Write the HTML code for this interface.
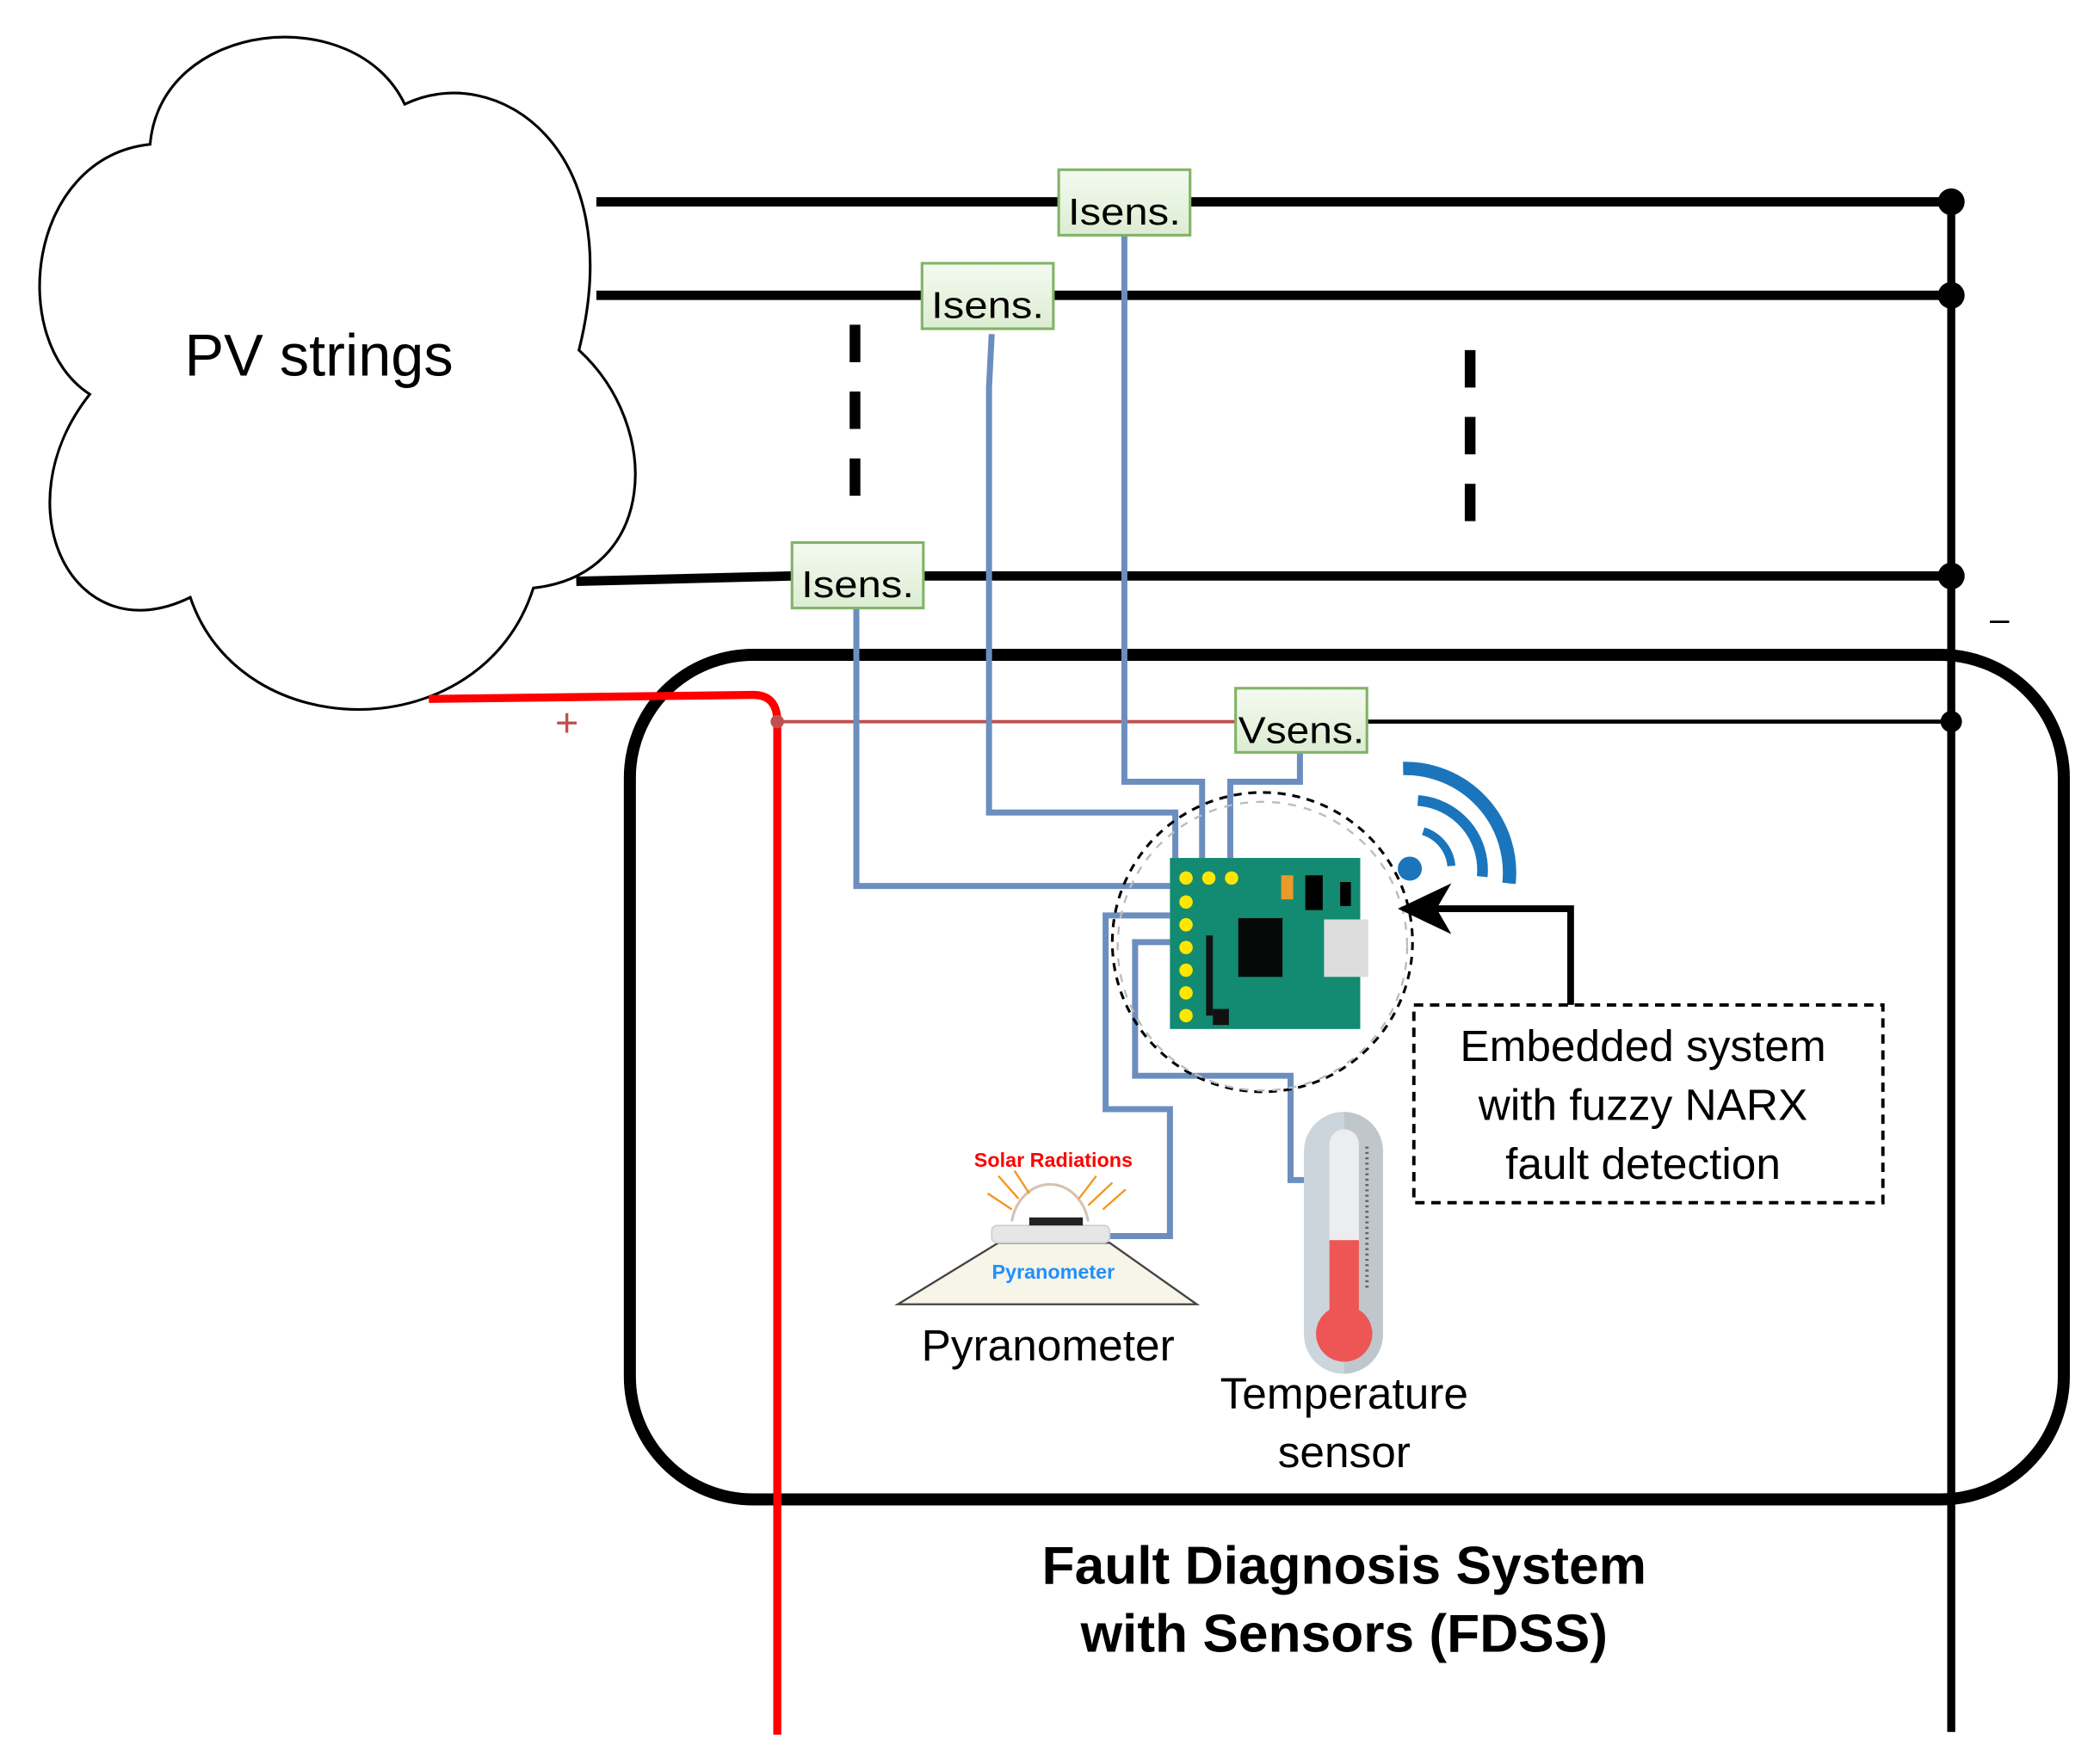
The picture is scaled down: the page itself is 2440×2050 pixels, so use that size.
<!DOCTYPE html>
<html><head><meta charset="utf-8"><style>
html,body{margin:0;padding:0;background:#fff;}
svg{display:block;}
text{font-family:"Liberation Sans",sans-serif;}
</style></head><body>
<svg width="2440" height="2050" viewBox="0 0 1567 1320" preserveAspectRatio="none" xmlns="http://www.w3.org/2000/svg">
<defs>
<linearGradient id="g" x1="0" y1="0" x2="0" y2="1"><stop offset="0" stop-color="#f4faf0"/><stop offset="1" stop-color="#dcedd2"/></linearGradient>
<clipPath id="tc"><rect x="973" y="832" width="59" height="196" rx="29.5"/></clipPath>
</defs>
<!-- cloud -->
<path d="M67,295 C5,255 20,118 112,108 C120,15 265,0 302,78 C370,45 470,110 432,262 C495,320 490,430 398,440 C360,560 180,560 142,447 C55,490 0,380 67,295 Z" fill="#fff" stroke="#000" stroke-width="2"/>
<text x="238" y="281" font-size="44" text-anchor="middle">PV strings</text>

<g stroke="#000" stroke-width="7" fill="none">
<line x1="445" y1="151" x2="1456" y2="151"/>
<line x1="445" y1="221" x2="1456" y2="221"/>
<path d="M430,435 L591,431 L1456,431"/>
</g>
<line x1="1456" y1="151" x2="1456" y2="1296" stroke="#000" stroke-width="6"/>
<g fill="#000"><circle cx="1456" cy="151" r="10"/><circle cx="1456" cy="221" r="10"/><circle cx="1456" cy="431" r="10"/><circle cx="1456" cy="540" r="8"/></g>
<text x="1492" y="472" font-size="26" text-anchor="middle">–</text>
<g stroke="#000" stroke-width="8" stroke-dasharray="28,22"><line x1="638" y1="243" x2="638" y2="392"/><line x1="1097" y1="262" x2="1097" y2="408"/></g>

<rect x="470" y="490" width="1070" height="632" rx="92" fill="none" stroke="#000" stroke-width="9"/>

<path d="M320,523 L562,520 Q580,520 580,540 L580,1298" fill="none" stroke="#ff0000" stroke-width="6"/>
<line x1="580" y1="540" x2="922" y2="540" stroke="#c0504d" stroke-width="2.5"/>
<circle cx="580" cy="540" r="5" fill="#c0504d"/>
<text x="423" y="551" font-size="30" fill="#c0504d" text-anchor="middle">+</text>
<line x1="1020" y1="540" x2="1456" y2="540" stroke="#000" stroke-width="3"/>

<g stroke="#6c8ebf" stroke-width="4.5" fill="none">
<path d="M839,176 L839,585 L897,585 L897,642"/>
<path d="M740,250 L738,290 L738,608 L877,608 L877,642"/>
<path d="M639,455 L639,663 L873,663"/>
<path d="M970,563 L970,585 L918,585 L918,642"/>
<path d="M873,685 L825,685 L825,830 L873,830 L873,925 L828,925"/>
<path d="M873,705 L847,705 L847,805 L963,805 L963,883 L976,883"/>
</g>

<g stroke="#82b366" stroke-width="2" fill="url(#g)">
<rect x="790" y="127" width="98" height="49"/>
<rect x="688" y="197" width="98" height="49"/>
<rect x="591" y="406" width="98" height="49"/>
<rect x="922" y="515" width="98" height="48"/>
</g>
<g font-size="28" text-anchor="middle">
<text x="839" y="168" textLength="84" lengthAdjust="spacingAndGlyphs">Isens.</text>
<text x="737" y="238" textLength="84" lengthAdjust="spacingAndGlyphs">Isens.</text>
<text x="640" y="447" textLength="84" lengthAdjust="spacingAndGlyphs">Isens.</text>
<text x="971" y="556" textLength="94" lengthAdjust="spacingAndGlyphs">Vsens.</text>
</g>

<circle cx="942" cy="705" r="112" fill="none" stroke="#000" stroke-width="2" stroke-dasharray="6,5"/>
<circle cx="942" cy="708" r="108" fill="none" stroke="#bbb" stroke-width="1.5" stroke-dasharray="6,6"/>

<rect x="873" y="642" width="142" height="128" fill="#138a72"/>
<g fill="#ffe600"><circle cx="885" cy="657" r="5"/><circle cx="902" cy="657" r="5"/><circle cx="919" cy="657" r="5"/>
<circle cx="885" cy="675" r="5"/><circle cx="885" cy="692" r="5"/><circle cx="885" cy="709" r="5"/><circle cx="885" cy="726" r="5"/><circle cx="885" cy="743" r="5"/><circle cx="885" cy="760" r="5"/></g>
<rect x="924" y="687" width="33" height="44" fill="#050a08"/>
<rect x="988" y="688" width="33" height="43" fill="#ddd"/>
<rect x="956" y="655" width="9" height="18" fill="#e89a2a"/>
<rect x="974" y="655" width="13" height="26" fill="#000"/>
<rect x="1000" y="660" width="8" height="18" fill="#000"/>
<rect x="900" y="700" width="5" height="60" fill="#111"/>
<rect x="905" y="755" width="12" height="12" fill="#111"/>

<circle cx="1052" cy="650" r="9" fill="#1a75bc"/>
<g fill="none" stroke="#1a75bc">
<path d="M1062,622 A30,30 0 0 1 1083,648" stroke-width="6"/>
<path d="M1058,599 A52,52 0 0 1 1106,656" stroke-width="8"/>
<path d="M1047,575 A78,78 0 0 1 1126,661" stroke-width="10"/>
</g>

<path d="M1172,752 L1172,680 L1070,680" fill="none" stroke="#000" stroke-width="5"/>
<path d="M1043,680 L1083,661 L1072,680 L1083,699 Z" fill="#000"/>

<rect x="1055" y="752" width="350" height="148" fill="#fff" stroke="#000" stroke-width="2.5" stroke-dasharray="7,5"/>
<g font-size="33" text-anchor="middle">
<text x="1226" y="794">Embedded system</text>
<text x="1226" y="838">with fuzzy NARX</text>
<text x="1226" y="882">fault detection</text>
</g>

<path d="M670,976 L745,930 L828,930 L893,976 Z" fill="#f7f4e8" stroke="#444" stroke-width="1.5"/>
<rect x="740" y="917" width="88" height="13" rx="4" fill="#e6e6e6" stroke="#ccc"/>
<rect x="768" y="911" width="40" height="6" fill="#222"/>
<path d="M755,914 A29,34 0 0 1 812,914" fill="none" stroke="#d4c4b0" stroke-width="2"/>
<g stroke="#f7941d" stroke-width="1.5"><line x1="745" y1="880" x2="760" y2="897"/><line x1="737" y1="893" x2="755" y2="905"/><line x1="757" y1="876" x2="768" y2="893"/><line x1="818" y1="880" x2="805" y2="897"/><line x1="830" y1="885" x2="812" y2="902"/><line x1="840" y1="890" x2="823" y2="905"/></g>
<text x="786" y="873" font-size="15" font-weight="bold" fill="#ff0000" text-anchor="middle">Solar Radiations</text>
<text x="786" y="957" font-size="15" font-weight="bold" fill="#1e90ff" text-anchor="middle">Pyranometer</text>
<text x="782" y="1018" font-size="33" text-anchor="middle">Pyranometer</text>

<rect x="973" y="832" width="59" height="196" rx="29.5" fill="#ccd5dc"/>
<rect x="1003" y="832" width="29" height="196" fill="#bfc7cd" clip-path="url(#tc)"/>
<rect x="992" y="845" width="22" height="160" rx="11" fill="#ecedef"/>
<rect x="992" y="928" width="22" height="72" fill="#e55"/>
<circle cx="1003" cy="998" r="21" fill="#e55"/>
<line x1="1020" y1="858" x2="1020" y2="965" stroke="#666" stroke-width="2.5" stroke-dasharray="1.5,2.5"/>
<g font-size="33" text-anchor="middle">
<text x="1003" y="1054">Temperature</text>
<text x="1003" y="1098">sensor</text>
</g>

<g font-size="40" font-weight="bold" text-anchor="middle">
<text x="1003" y="1185">Fault Diagnosis System</text>
<text x="1003" y="1236">with Sensors (FDSS)</text>
</g>
</svg>
</body></html>
